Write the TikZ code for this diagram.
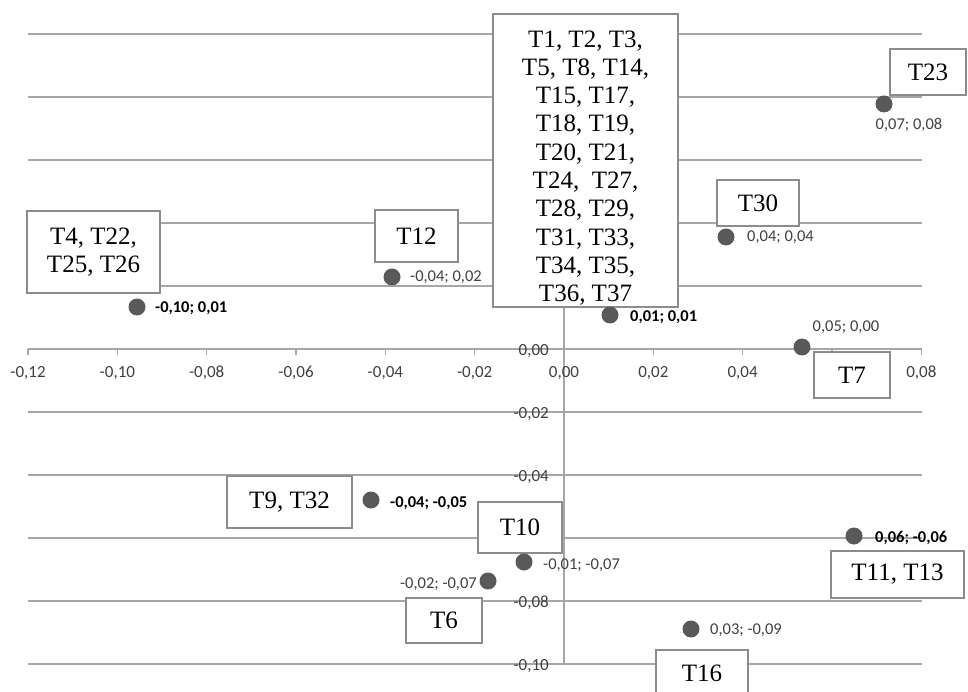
\documentclass[tikz,border=0pt]{standalone}
\usepackage{fontspec}
\setmainfont{Liberation Serif}
\newfontfamily\chartfont{Carlito}
\definecolor{gridgray}{RGB}{166,166,166}
\definecolor{boxgray}{RGB}{140,140,140}
\definecolor{dotgray}{RGB}{89,89,89}
\definecolor{txtgray}{RGB}{64,64,64}
\begin{document}
\begin{tikzpicture}[x=1pt, y=-1pt,
   grid line/.style={gridgray, line width=1.3pt},
   name box/.style={draw=boxgray, line width=1.8pt, fill=white, align=center,
      inner sep=0pt, font=\fontsize{25}{28.3}\selectfont},
   point/.style={circle, fill=dotgray, inner sep=0pt, minimum size=17pt},
   value/.style={inner sep=0pt, text=txtgray, font=\chartfont\fontsize{16.5}{19}\selectfont},
   strong value/.style={value, text=black, font=\chartfont\bfseries\fontsize{16.5}{19}\selectfont},
   tick label/.style={inner sep=0pt, text=txtgray, font=\chartfont\fontsize{17}{20}\selectfont}]%
   \useasboundingbox (0,0) rectangle (968,692);
   \clip (0,0) rectangle (968,692);
   \foreach \y in {34,97,...,664} \draw[grid line] (28,\y) -- (922,\y);
   \draw[grid line] (564,34) -- (564,664);
   \foreach \k in {0,...,10} \draw[grid line] (28+89.33*\k,349) -- (28+89.33*\k,355);
   \foreach \k/\t in {0/{-0,12},1/{-0,10},2/{-0,08},3/{-0,06},4/{-0,04},5/{-0,02},6/{0,00},7/{0,02},8/{0,04},10/{0,08}}
      \node[tick label] (xl\k) at (28+89.33*\k,373) {\t};
   \foreach \k/\t in {0/{0,00},1/{-0,02},2/{-0,04},4/{-0,08},5/{-0,10}}
      \node[tick label, anchor=east] (yl\k) at (549,351+63*\k) {\t};
   \node[name box, minimum width=133pt, minimum height=82pt] (g4) at (93.5,252) {T4, T22,\\T25, T26};
   \node[name box, minimum width=83pt, minimum height=52pt] (g12) at (416.5,236) {T12};
   \node[name box, minimum width=185pt, minimum height=293pt] (g1) at (585.5,160.5) {};
   \node[align=center, inner sep=0pt, font=\fontsize{25}{28.3}\selectfont] (t1) at (585.5,168)
      {T1, T2, T3,\\T5, T8, T14,\\T15, T17,\\T18, T19,\\T20, T21,\\T24,~ T27,\\T28, T29,\\T31, T33,\\T34, T35,\\T36, T37};
   \node[name box, minimum width=76pt, minimum height=46pt] (g23) at (928,72) {T23};
   \node[name box, minimum width=82pt, minimum height=46pt] (g30) at (758,203) {T30};
   \node[name box, minimum width=76pt, minimum height=46pt] (g7) at (852,375) {T7};
   \node[name box, minimum width=125pt, minimum height=52pt] (g9) at (289.5,502) {T9, T32};
   \node[name box, minimum width=84pt, minimum height=51pt] (g10) at (520,527.5) {T10};
   \node[name box, minimum width=76pt, minimum height=45pt] (g6) at (444,620.5) {T6};
   \node[name box, minimum width=133pt, minimum height=47pt] (g11) at (897.5,574.5) {T11, T13};
   \node[name box, minimum width=92pt, minimum height=46pt] (g16) at (702,673) {T16};
   \node[point] (p4) at (137,307) {};
   \node[point] (p12) at (392,277) {};
   \node[point] (p1) at (610,315) {};
   \node[point] (p23) at (884,104) {};
   \node[point] (p30) at (726,237) {};
   \node[point] (p7) at (802,347) {};
   \node[point] (p9) at (371,500) {};
   \node[point] (p10) at (524,562) {};
   \node[point] (p6) at (488,581) {};
   \node[point] (p11) at (854,536) {};
   \node[point] (p16) at (691,629) {};
   \node[strong value, anchor=west] (v4) at (155,308) {-0,10; 0,01};
   \node[value, anchor=west] (v12) at (410,277) {-0,04; 0,02};
   \node[strong value, anchor=west] (v1) at (630,317) {0,01; 0,01};
   \node[value] (v23) at (909,125) {0,07; 0,08};
   \node[value, anchor=west] (v30) at (747,237) {0,04; 0,04};
   \node[value] (v7) at (846,327) {0,05; 0,00};
   \node[strong value, anchor=west] (v9) at (390,503) {-0,04; -0,05};
   \node[value, anchor=west] (v10) at (543,565) {-0,01; -0,07};
   \node[value, anchor=east] (v6) at (477,584) {-0,02; -0,07};
   \node[strong value, anchor=west] (v11) at (875,538) {0,06; -0,06};
   \node[value, anchor=west] (v16) at (710,630) {0,03; -0,09};
\end{tikzpicture}
\end{document}
